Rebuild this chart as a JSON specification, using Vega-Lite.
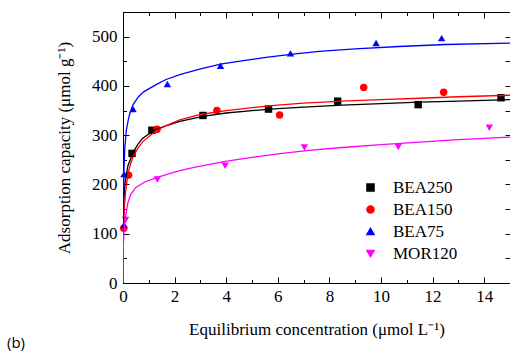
{
  "$schema": "https://vega.github.io/schema/vega-lite/v6.json",
  "width": 387,
  "height": 271,
  "autosize": {"type": "none"},
  "padding": {"left": 123, "top": 12, "right": 0, "bottom": 70},
  "background": "white",
  "config": {
    "view": {"stroke": "black", "strokeWidth": 1},
    "axis": {"domainColor": "black", "tickColor": "black", "labelColor": "black", "titleColor": "black", "grid": false, "labelFont": "Liberation Serif", "titleFont": "Liberation Serif", "labelFontSize": 17, "titleFontSize": 17, "titleFontWeight": "normal"},
    "legend": {"labelFont": "Liberation Serif", "labelFontSize": 17, "labelColor": "black"}
  },
  "title": {"text": "(b)", "orient": "bottom", "anchor": "start", "frame": "group", "dx": -116, "offset": -2, "font": "Open Sans", "fontSize": 15, "fontWeight": "normal", "color": "black"},
  "datasets": {
    "points": [
      {"series": "BEA250", "x": 0.35, "y": 263}, {"series": "BEA250", "x": 1.12, "y": 310}, {"series": "BEA250", "x": 3.1, "y": 340}, {"series": "BEA250", "x": 5.64, "y": 353}, {"series": "BEA250", "x": 8.32, "y": 369}, {"series": "BEA250", "x": 11.44, "y": 362}, {"series": "BEA250", "x": 14.65, "y": 376},
      {"series": "BEA150", "x": 0.03, "y": 111}, {"series": "BEA150", "x": 0.22, "y": 219}, {"series": "BEA150", "x": 1.32, "y": 312}, {"series": "BEA150", "x": 3.64, "y": 350}, {"series": "BEA150", "x": 6.07, "y": 341}, {"series": "BEA150", "x": 9.33, "y": 397}, {"series": "BEA150", "x": 12.43, "y": 387},
      {"series": "BEA75", "x": 0.04, "y": 118}, {"series": "BEA75", "x": 0.04, "y": 221}, {"series": "BEA75", "x": 0.39, "y": 353}, {"series": "BEA75", "x": 1.72, "y": 404}, {"series": "BEA75", "x": 3.78, "y": 441}, {"series": "BEA75", "x": 6.49, "y": 466}, {"series": "BEA75", "x": 9.81, "y": 487}, {"series": "BEA75", "x": 12.35, "y": 497},
      {"series": "MOR120", "x": 0.1, "y": 128}, {"series": "MOR120", "x": 1.33, "y": 210}, {"series": "MOR120", "x": 3.96, "y": 238}, {"series": "MOR120", "x": 7.03, "y": 275}, {"series": "MOR120", "x": 10.67, "y": 276}, {"series": "MOR120", "x": 14.2, "y": 315}
    ],
    "curves": [
      {"series": "BEA250", "x": 0, "y": 0}, {"series": "BEA250", "x": 0.01, "y": 100}, {"series": "BEA250", "x": 0.03, "y": 160}, {"series": "BEA250", "x": 0.06, "y": 190}, {"series": "BEA250", "x": 0.09, "y": 207}, {"series": "BEA250", "x": 0.19, "y": 238}, {"series": "BEA250", "x": 0.39, "y": 265}, {"series": "BEA250", "x": 0.58, "y": 282}, {"series": "BEA250", "x": 0.77, "y": 294}, {"series": "BEA250", "x": 1.2, "y": 310}, {"series": "BEA250", "x": 1.6, "y": 318}, {"series": "BEA250", "x": 2.2, "y": 328}, {"series": "BEA250", "x": 3.1, "y": 338}, {"series": "BEA250", "x": 4, "y": 345}, {"series": "BEA250", "x": 5, "y": 350}, {"series": "BEA250", "x": 6, "y": 354}, {"series": "BEA250", "x": 7, "y": 357}, {"series": "BEA250", "x": 8.5, "y": 361}, {"series": "BEA250", "x": 10, "y": 364}, {"series": "BEA250", "x": 11.5, "y": 367}, {"series": "BEA250", "x": 13, "y": 369}, {"series": "BEA250", "x": 15, "y": 372},
      {"series": "BEA150", "x": 0, "y": 0}, {"series": "BEA150", "x": 0.01, "y": 80}, {"series": "BEA150", "x": 0.03, "y": 120}, {"series": "BEA150", "x": 0.06, "y": 160}, {"series": "BEA150", "x": 0.1, "y": 185}, {"series": "BEA150", "x": 0.19, "y": 222}, {"series": "BEA150", "x": 0.3, "y": 243}, {"series": "BEA150", "x": 0.39, "y": 256}, {"series": "BEA150", "x": 0.58, "y": 274}, {"series": "BEA150", "x": 0.77, "y": 287}, {"series": "BEA150", "x": 1.3, "y": 310}, {"series": "BEA150", "x": 1.7, "y": 320}, {"series": "BEA150", "x": 2.2, "y": 331}, {"series": "BEA150", "x": 3, "y": 342}, {"series": "BEA150", "x": 4, "y": 350}, {"series": "BEA150", "x": 5, "y": 356}, {"series": "BEA150", "x": 6, "y": 361}, {"series": "BEA150", "x": 7, "y": 365}, {"series": "BEA150", "x": 8.5, "y": 369}, {"series": "BEA150", "x": 10, "y": 372}, {"series": "BEA150", "x": 11.5, "y": 375}, {"series": "BEA150", "x": 13, "y": 378}, {"series": "BEA150", "x": 15, "y": 381},
      {"series": "BEA75", "x": 0, "y": 0}, {"series": "BEA75", "x": 0.01, "y": 120}, {"series": "BEA75", "x": 0.02, "y": 170}, {"series": "BEA75", "x": 0.04, "y": 234}, {"series": "BEA75", "x": 0.07, "y": 275}, {"series": "BEA75", "x": 0.13, "y": 310}, {"series": "BEA75", "x": 0.2, "y": 330}, {"series": "BEA75", "x": 0.26, "y": 343}, {"series": "BEA75", "x": 0.39, "y": 362}, {"series": "BEA75", "x": 0.6, "y": 378}, {"series": "BEA75", "x": 0.8, "y": 388}, {"series": "BEA75", "x": 1.03, "y": 395}, {"series": "BEA75", "x": 1.3, "y": 403}, {"series": "BEA75", "x": 1.67, "y": 413}, {"series": "BEA75", "x": 2.2, "y": 423}, {"series": "BEA75", "x": 2.97, "y": 434}, {"series": "BEA75", "x": 3.78, "y": 444}, {"series": "BEA75", "x": 4.6, "y": 451}, {"series": "BEA75", "x": 5.55, "y": 458}, {"series": "BEA75", "x": 6.5, "y": 464}, {"series": "BEA75", "x": 7.6, "y": 470}, {"series": "BEA75", "x": 9, "y": 475}, {"series": "BEA75", "x": 10.7, "y": 480}, {"series": "BEA75", "x": 12.5, "y": 484}, {"series": "BEA75", "x": 15, "y": 487},
      {"series": "MOR120", "x": 0, "y": 0}, {"series": "MOR120", "x": 0.01, "y": 70}, {"series": "MOR120", "x": 0.03, "y": 100}, {"series": "MOR120", "x": 0.06, "y": 118}, {"series": "MOR120", "x": 0.1, "y": 135}, {"series": "MOR120", "x": 0.19, "y": 163}, {"series": "MOR120", "x": 0.3, "y": 180}, {"series": "MOR120", "x": 0.5, "y": 194}, {"series": "MOR120", "x": 0.84, "y": 205}, {"series": "MOR120", "x": 1.36, "y": 215}, {"series": "MOR120", "x": 1.8, "y": 222}, {"series": "MOR120", "x": 2.2, "y": 228}, {"series": "MOR120", "x": 2.8, "y": 235}, {"series": "MOR120", "x": 3.96, "y": 247}, {"series": "MOR120", "x": 5, "y": 255}, {"series": "MOR120", "x": 6, "y": 262}, {"series": "MOR120", "x": 7.2, "y": 269}, {"series": "MOR120", "x": 8.5, "y": 275}, {"series": "MOR120", "x": 10, "y": 281}, {"series": "MOR120", "x": 11.5, "y": 286}, {"series": "MOR120", "x": 13, "y": 291}, {"series": "MOR120", "x": 15, "y": 296}
    ]
  },
  "resolve": {"axis": {"x": "independent", "y": "independent"}},
  "layer": [
    {
      "data": {"name": "points"},
      "mark": {"type": "point", "filled": true, "opacity": 1, "size": 55},
      "encoding": {
        "x": {"field": "x", "type": "quantitative", "scale": {"domain": [0, 15], "nice": false},
          "axis": {"orient": "bottom", "title": "Equilibrium concentration (μmol L⁻¹)", "values": [0,1,2,3,4,5,6,7,8,9,10,11,12,13,14], "labelColor": {"condition": {"test": "datum.value % 2 != 0", "value": "transparent"}, "value": "black"}, "labelOverlap": false, "labelFont": "Liberation Serif", "labelFontSize": 17, "tickSize": {"condition": {"test": "datum.value % 2 != 0", "value": -3.5}, "value": -6}, "labelPadding": 11, "titlePadding": 15, "labelFlush": false}},
        "y": {"field": "y", "type": "quantitative", "scale": {"domain": [0, 550], "nice": false},
          "axis": {"orient": "left", "title": "Adsorption capacity (μmol g⁻¹)", "values": [0,50,100,150,200,250,300,350,400,450,500], "labelColor": {"condition": {"test": "datum.value % 100 != 0", "value": "transparent"}, "value": "black"}, "labelOverlap": false, "labelFont": "Liberation Serif", "labelFontSize": 17, "tickSize": {"condition": {"test": "datum.value % 100 != 0", "value": -3.5}, "value": -6}, "labelPadding": 12, "titlePadding": 16, "labelFlush": false}},
        "color": {"field": "series", "type": "nominal", "scale": {"domain": ["BEA250", "BEA150", "BEA75", "MOR120"], "range": ["#000000", "#ff0000", "#0000ff", "#ff00ff"]},
          "legend": {"orient": "none", "legendX": 239, "legendY": 167, "title": null, "labelOffset": 14, "rowPadding": 4, "symbolSize": 50}},
        "shape": {"field": "series", "type": "nominal", "scale": {"domain": ["BEA250", "BEA150", "BEA75", "MOR120"], "range": ["square", "circle", "triangle-up", "triangle-down"]}}
      }
    },
    {
      "data": {"name": "curves"},
      "mark": {"type": "line", "strokeWidth": 1.3, "clip": true},
      "encoding": {
        "x": {"field": "x", "type": "quantitative", "axis": null},
        "y": {"field": "y", "type": "quantitative", "axis": null},
        "stroke": {"field": "series", "type": "nominal", "scale": {"domain": ["BEA250", "BEA150", "BEA75", "MOR120"], "range": ["#000000", "#ff0000", "#0000ff", "#ff00ff"]}, "legend": null},
        "detail": {"field": "series"},
        "order": {"field": "x", "type": "quantitative"}
      }
    },
    {
      "data": {"name": "points"},
      "mark": {"type": "point", "opacity": 0},
      "encoding": {
        "x": {"field": "x", "type": "quantitative",
          "axis": {"orient": "top", "title": null, "labels": false, "values": [0,1,2,3,4,5,6,7,8,9,10,11,12,13,14], "tickSize": {"condition": {"test": "datum.value % 2 != 0", "value": -3.5}, "value": -6}}},
        "y": {"field": "y", "type": "quantitative",
          "axis": {"orient": "right", "title": null, "labels": false, "values": [0,50,100,150,200,250,300,350,400,450,500], "tickSize": -5}}
      }
    }
  ]
}
